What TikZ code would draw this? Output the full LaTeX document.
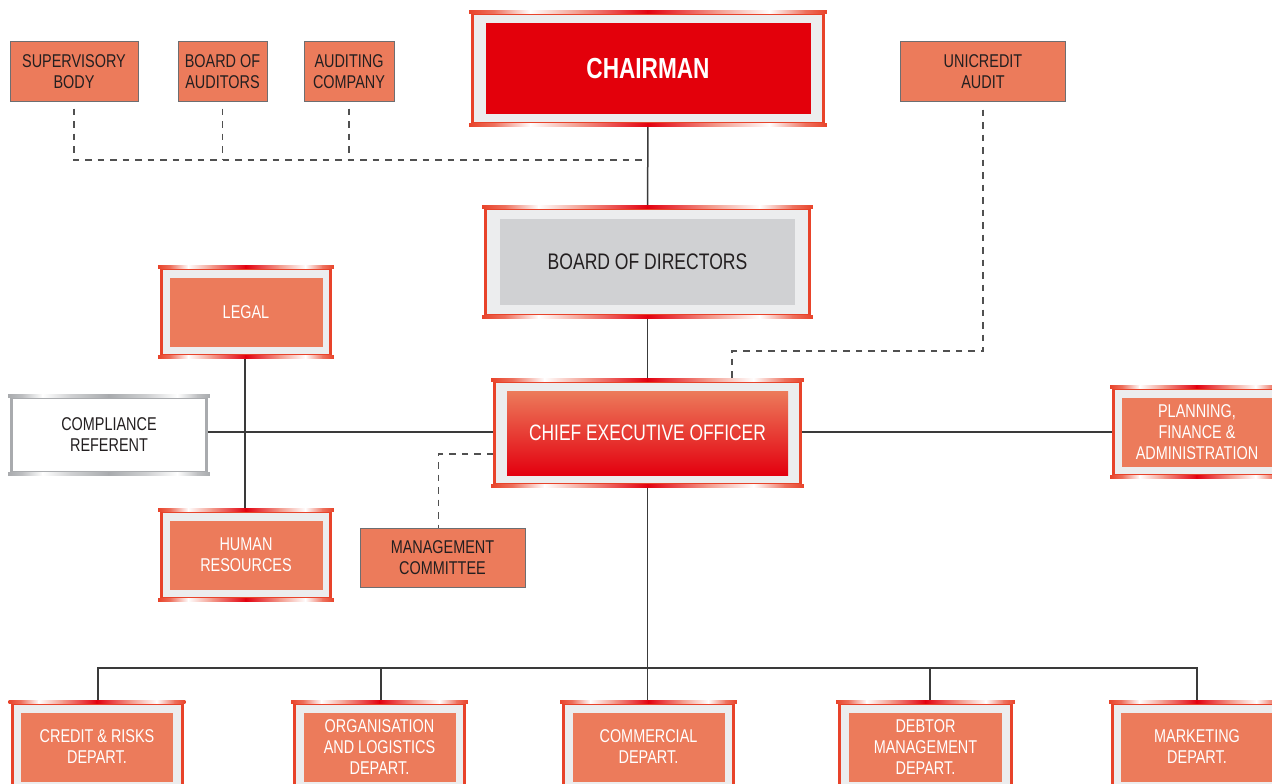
\documentclass[tikz,border=0pt]{standalone}
\usepackage{fontspec}
\setmainfont{Liberation Sans}[FakeStretch=0.78]
\usetikzlibrary{calc,backgrounds}
\definecolor{orf}{HTML}{EC7B5B}
\definecolor{chred}{HTML}{E3000B}
\definecolor{frred}{HTML}{E8432A}
\definecolor{deepred}{HTML}{E3000F}
\definecolor{frgray}{HTML}{ECEDEE}
\definecolor{bodgray}{HTML}{D0D1D3}
\definecolor{txtdark}{HTML}{231F20}
\definecolor{linec}{HTML}{3A3A3A}
\definecolor{dashc}{HTML}{505050}
\definecolor{plainborder}{HTML}{6D6E71}
\definecolor{silver}{HTML}{A9ABAE}
% gradient band along a top or bottom edge: #1 left point, #2 right point, #3 end colour, #4 middle colour
\newcommand{\edgeband}[4]{%
  \foreach \fa/\fb/\ca/\cb in {0/0.07/#3/#3!75!white, 0.07/0.17/#3!75!white/white, 0.17/0.31/white/#3!55!white, 0.31/0.5/#3!55!white/#4, 0.5/0.69/#4/#3!55!white, 0.69/0.84/#3!55!white/white, 0.84/0.94/white/#3!75!white, 0.94/1/#3!75!white/#3}{%
    \shade[left color=\ca, right color=\cb] ($(#1)!\fa!(#2)+(-0.3,-1.5)$) rectangle ($(#1)!\fb!(#2)+(0.3,1.5)$);
  }%
}
\newcommand{\orgbox}[9]{%
  \node[frameo, minimum width={(#4-3)*1pt}, minimum height={(#5-3)*1pt}] (#1) at (#2,#3) {};
  \coordinate (#1-tl) at ([xshift=-1.5pt]#1.north west);
  \coordinate (#1-tr) at ([xshift=1.5pt]#1.north east);
  \coordinate (#1-bl) at ([xshift=-1.5pt]#1.south west);
  \coordinate (#1-br) at ([xshift=1.5pt]#1.south east);
  \edgeband{#1-tl}{#1-tr}{frred}{deepred}
  \edgeband{#1-bl}{#1-br}{frred}{deepred}
  \node[#8, minimum width={#6*1pt}, minimum height={#7*1pt}, inner sep=0pt, align=center] (#1-in) at (#1.center) {#9};
}
\begin{document}
\begin{tikzpicture}[x=1pt,y=-1pt,
  conn/.style={draw=linec, line width=1.5pt},
  dconn/.style={draw=dashc, line width=1.4pt, dash pattern=on 6.5pt off 6pt},
  frameo/.style={draw=frred, fill=frgray, line width=3pt, inner sep=0pt},
  chairin/.style={fill=chred, text=white, font=\bfseries\fontsize{29}{33}\selectfont},
  bodin/.style={fill=bodgray, text=txtdark, font=\fontsize{22.5}{26}\selectfont},
  ceoin/.style={top color=orf, bottom color=deepred, text=white, font=\fontsize{22.3}{26}\selectfont},
  orin/.style={fill=orf, text=white, font=\fontsize{18.5}{21}\selectfont},
  plainbox/.style={draw=plainborder, line width=1pt, fill=orf, text=txtdark, inner sep=0pt, align=center, minimum height=59pt, font=\fontsize{18.5}{20.5}\selectfont},
  compfr/.style={draw=silver, fill=white, line width=3pt, inner sep=0pt, align=center, text=txtdark, font=\fontsize{18.5}{21}\selectfont}
]
\useasboundingbox (0,0) rectangle (1272,784);
\clip (0,0) rectangle (1272,784);

% top row plain boxes
\node[plainbox, minimum width=128pt] (sup) at (74,71.5) {SUPERVISORY\\BODY};
\node[plainbox, minimum width=89pt] (boa) at (222.5,71.5) {BOARD OF\\AUDITORS};
\node[plainbox, minimum width=90pt] (aud) at (349,71.5) {AUDITING\\COMPANY};
\node[plainbox, minimum width=165pt] (uni) at (983,71.5) {UNICREDIT\\AUDIT};

% framed boxes
\orgbox{chair}{648}{68.5}{354}{113}{325}{91}{chairin}{CHAIRMAN}
\orgbox{bod}{647.5}{262}{327}{110}{295}{86}{bodin}{BOARD OF DIRECTORS}
\orgbox{ceo}{647.5}{433}{309}{106}{281}{84}{ceoin}{CHIEF EXECUTIVE OFFICER}
\orgbox{legal}{246}{312}{172}{90}{153}{69}{orin}{LEGAL}
\orgbox{hr}{246}{555}{172}{90}{153}{69}{orin}{HUMAN\\RESOURCES}
\orgbox{plan}{1197}{432}{170}{90}{150}{69}{orin}{PLANNING,\\FINANCE \&\\ADMINISTRATION}
\orgbox{cred}{97}{747}{173}{90}{152}{69}{orin}{CREDIT \& RISKS\\DEPART.}
\orgbox{org}{379.5}{747}{173}{90}{152}{69}{orin}{ORGANISATION\\AND LOGISTICS\\DEPART.}
\orgbox{com}{648.5}{747}{173}{90}{152}{69}{orin}{COMMERCIAL\\DEPART.}
\orgbox{debt}{925.5}{747}{175}{90}{153}{69}{orin}{DEBTOR\\MANAGEMENT\\DEPART.}
\orgbox{mkt}{1197}{747}{172}{90}{152}{69}{orin}{MARKETING\\DEPART.}

% compliance
\node[compfr, minimum width=195pt, minimum height=75pt] (comp) at (109,435) {COMPLIANCE\\REFERENT};
\coordinate (comp-tl) at ([xshift=-1.5pt]comp.north west);
\coordinate (comp-tr) at ([xshift=1.5pt]comp.north east);
\coordinate (comp-bl) at ([xshift=-1.5pt]comp.south west);
\coordinate (comp-br) at ([xshift=1.5pt]comp.south east);
\edgeband{comp-tl}{comp-tr}{silver}{silver}
\edgeband{comp-bl}{comp-br}{silver}{silver}

% management committee
\node[plainbox, minimum width=165pt] (mgmt) at (442.5,557.5) {MANAGEMENT\\COMMITTEE};

% connectors
\coordinate (dj) at (647,160);
\coordinate (uj) at (732,351);
\coordinate (bus) at (647,668);
\begin{scope}[on background layer]
\draw[dconn] ([yshift=-7pt]sup.south) |- (dj);
\draw[dconn] ([yshift=-7pt]boa.south) -- (boa.south |- dj);
\draw[dconn] ([yshift=-7pt]aud.south) -- (aud.south |- dj);
\draw[conn] (chair.south) -- (bod.north);
\draw[dconn] ([yshift=-8pt]uni.south) |- (uj) -- (uj |- ceo.north);
\draw[conn] (bod.south) -- (ceo.north);
\draw[dconn] ([yshift=-21pt]ceo.west) -| ([xshift=-4pt]mgmt.north);
\draw[conn] ([yshift=1pt]ceo.west) -- ([yshift=1pt]ceo.west -| comp.east);
\draw[conn] ([xshift=-1pt]legal.south) -- ([xshift=-1pt]hr.north);
\draw[conn] ([yshift=1pt]ceo.east) -- ([yshift=1pt]ceo.east -| plan.west);
\draw[conn] (ceo.south) -- (ceo.south |- com.north);
\draw[conn] ([xshift=1pt]cred.north) |- (bus) -| (mkt.north);
\draw[conn] ([xshift=1.5pt]org.north) -- ([xshift=1.5pt]org.north |- bus);
\draw[conn] ([xshift=4.5pt]debt.north) -- ([xshift=4.5pt]debt.north |- bus);
\end{scope}
\end{tikzpicture}
\end{document}
